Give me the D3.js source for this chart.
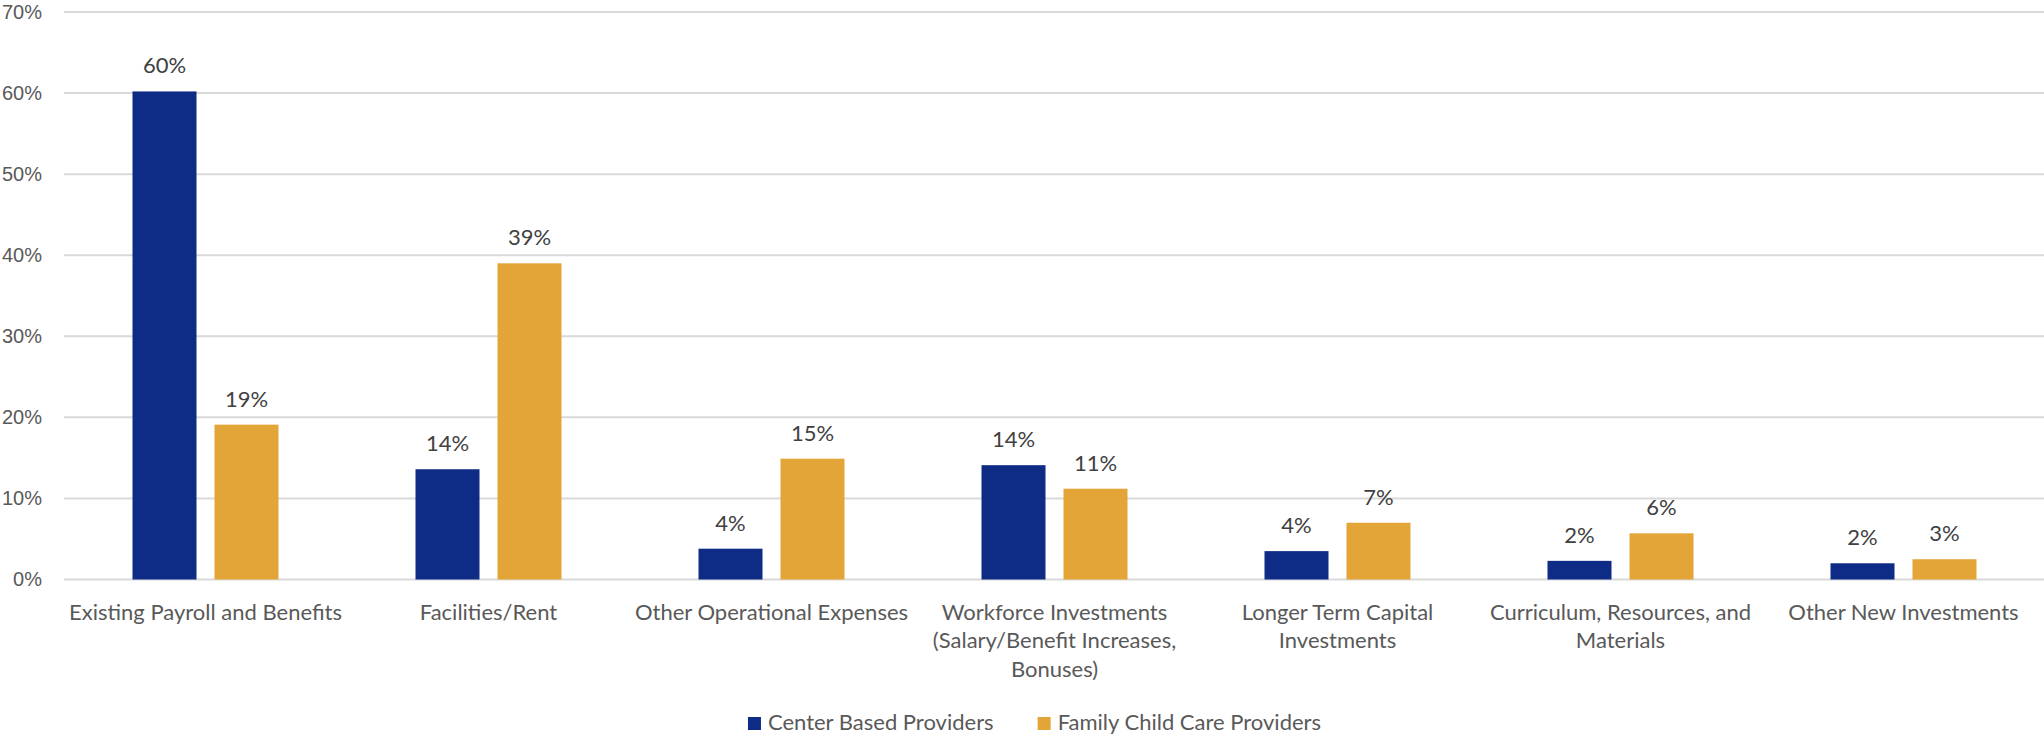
<!DOCTYPE html>
<html>
<head>
<meta charset="utf-8">
<script src="https://cdn.jsdelivr.net/npm/d3@7"></script>
<style>
    body { margin: 0; background: #fff; }
    svg { display: block; font-family: Lato, "Open Sans", sans-serif; }
</style>
</head>
<body>
<div id="chart"></div>
<script>
const categories = [
    "Existing Payroll and Benefits",
    "Facilities/Rent",
    "Other Operational Expenses",
    "Workforce Investments (Salary/Benefit Increases, Bonuses)",
    "Longer Term Capital Investments",
    "Curriculum, Resources, and Materials",
    "Other New Investments"
];
const seriesNames = ["Center Based Providers", "Family Child Care Providers"];
const centerBased = [60.2, 13.6, 3.8, 14.1, 3.5, 2.3, 2.0];
const familyChildCare = [19.1, 39.0, 14.9, 11.2, 7.0, 5.7, 2.5];
const yTicks = [0, 10, 20, 30, 40, 50, 60, 70];

const colors = ["#0E2B85", "#E3A538"];

// Chart dimensions.
const width = 2044;
const height = 736;
const marginLeft = 64;
const marginRight = -1;
const plotTop = 12;
const plotBottom = 579.5;
const fontSize = 22;

const data = categories.map((c, i) => ({ category: c, values: [centerBased[i], familyChildCare[i]] }));

// Scales.
const x0 = d3.scaleBand()
    .domain(categories)
    .range([marginLeft, width - marginRight])
    .paddingInner(0)
    .paddingOuter(0);

const x1 = d3.scaleBand()
    .domain(d3.range(seriesNames.length))
    .range([x0.bandwidth() / 2 - 73, x0.bandwidth() / 2 + 73])
    .paddingInner(0.2195);

const y = d3.scaleLinear()
    .domain([0, 70])
    .range([plotBottom, plotTop]);

const svg = d3.select("#chart").append("svg")
    .attr("width", width)
    .attr("height", height)
    .attr("viewBox", [0, 0, width, height])
    .style("font-size", fontSize + "px");

// Gridlines.
svg.append("g")
  .selectAll("line")
  .data(yTicks)
  .join("line")
    .attr("x1", marginLeft)
    .attr("x2", width)
    .attr("y1", d => y(d))
    .attr("y2", d => y(d))
    .attr("stroke", "#D9D9D9")
    .attr("stroke-width", 2);

// Vertical axis labels.
svg.append("g")
    .attr("transform", `translate(${marginLeft - 22},0)`)
    .call(d3.axisLeft(y).tickValues(yTicks).tickSize(0).tickPadding(0).tickFormat(d => d + "%"))
    .call(g => g.select(".domain").remove())
    .call(g => g.selectAll("text")
        .attr("fill", "#595959")
        .style("font-size", "20px")
        .style("font-family", "inherit"));

// Bars, one group per category.
const groups = svg.append("g")
  .selectAll("g")
  .data(data)
  .join("g")
    .attr("transform", d => `translate(${x0(d.category)},0)`);

groups.selectAll("rect")
  .data(d => d.values)
  .join("rect")
    .attr("x", (d, i) => x1(i))
    .attr("y", d => y(d))
    .attr("width", x1.bandwidth())
    .attr("height", d => y(0) - y(d))
    .attr("fill", (d, i) => colors[i]);

// Data labels.
groups.selectAll("text")
  .data(d => d.values)
  .join("text")
    .attr("x", (d, i) => x1(i) + x1.bandwidth() / 2)
    .attr("y", d => y(d) - 18)
    .attr("text-anchor", "middle")
    .attr("fill", "#404040")
    .text(d => Math.round(d) + "%");

// Category labels, wrapped to the band width.
function wrap(textSel, maxWidth, lineHeight) {
    textSel.each(function (label) {
        const text = d3.select(this);
        const words = label.split(" ");
        let line = [];
        let tspan = text.append("tspan").attr("x", 0).attr("dy", 0);
        for (const word of words) {
            line.push(word);
            tspan.text(line.join(" "));
            if (tspan.node().getComputedTextLength() > maxWidth && line.length > 1) {
                line.pop();
                tspan.text(line.join(" "));
                line = [word];
                tspan = text.append("tspan").attr("x", 0).attr("dy", lineHeight).text(word);
            }
        }
    });
}

svg.append("g")
  .selectAll("text")
  .data(categories)
  .join("text")
    .attr("transform", d => `translate(${x0(d) + x0.bandwidth() / 2},${plotBottom + 40})`)
    .attr("text-anchor", "middle")
    .attr("fill", "#595959")
    .call(wrap, 280, 28.7);

// Legend.
const legend = svg.append("g");
const items = legend.selectAll("g")
  .data(seriesNames)
  .join("g");

items.append("rect")
    .attr("width", 13)
    .attr("height", 13)
    .attr("y", -13)
    .attr("fill", (d, i) => colors[i]);

items.append("text")
    .attr("x", 20)
    .attr("fill", "#595959")
    .text(d => d);

let offset = 0;
items.each(function () {
    d3.select(this).attr("transform", `translate(${offset},0)`);
    offset += this.getBBox().width + 44;
});
const legendWidth = offset - 44;
legend.attr("transform", `translate(${1034.5 - legendWidth / 2},730)`);
</script>
</body>
</html>
